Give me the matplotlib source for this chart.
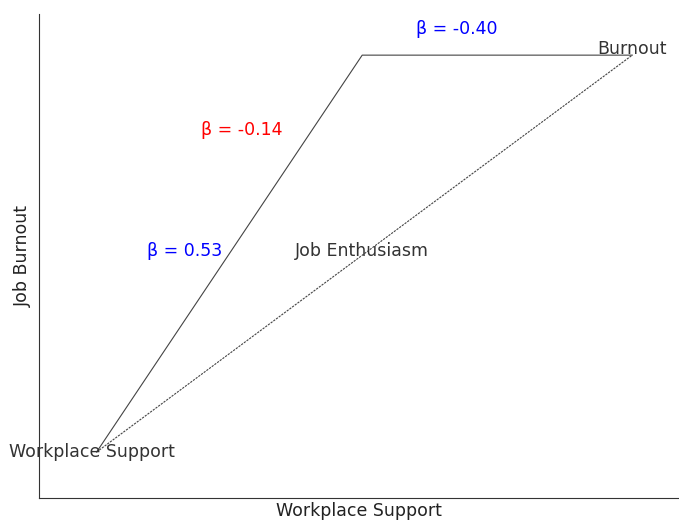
import matplotlib
matplotlib.use("Agg")
import matplotlib.pyplot as plt

# Data
nodes = ["Workplace Support", "Job Enthusiasm", "Burnout"]
coef_a = 0.53    # Support -> Enthusiasm
coef_b = -0.40   # Enthusiasm -> Burnout
coef_c = -0.14   # direct Support -> Burnout
axis_labels = ["Workplace Support", "Job Burnout"]

# Layout (data coords in a 0..1 axes)
node_x = [0.09, 0.505, 0.927]
node_y = [0.095, 0.915, 0.915]

fs = 12.5
fig = plt.figure(figsize=(6.79, 5.2), dpi=100)
ax = fig.add_axes([39/679, 22/520, 640/679, 484/520])
ax.set_xlim(0, 1)
ax.set_ylim(0, 1)

ax.plot(node_x, node_y, color="#444444", lw=0.8)
ax.plot([node_x[0], node_x[2]], [node_y[0], node_y[2]], color="#444444",
        lw=0.8, linestyle=(0, (2, 1)))

tc = "#333333"
ax.text(0.083, 0.095, nodes[0], ha="center", va="center", fontsize=fs, color=tc)
ax.text(0.505, 0.51, nodes[1], ha="center", va="center", fontsize=fs, color=tc)
ax.text(0.927, 0.928, nodes[2], ha="center", va="center", fontsize=fs, color=tc)

ax.text(0.227, 0.51, f"β = {coef_a:.2f}", ha="center", va="center", fontsize=fs, color="blue")
ax.text(0.317, 0.761, f"β = {coef_c:.2f}", ha="center", va="center", fontsize=fs, color="red")
ax.text(0.653, 0.97, f"β = {coef_b:.2f}", ha="center", va="center", fontsize=fs, color="blue")

ax.set_xlabel(axis_labels[0], fontsize=fs, color="#222222", labelpad=3)
ax.set_ylabel(axis_labels[1], fontsize=fs, color="#222222", labelpad=5)
ax.set_xticks([])
ax.set_yticks([])
ax.spines["top"].set_visible(False)
ax.spines["right"].set_visible(False)
ax.spines["left"].set_color("#333333")
ax.spines["bottom"].set_color("#333333")

fig.savefig("out.png", dpi=100)
